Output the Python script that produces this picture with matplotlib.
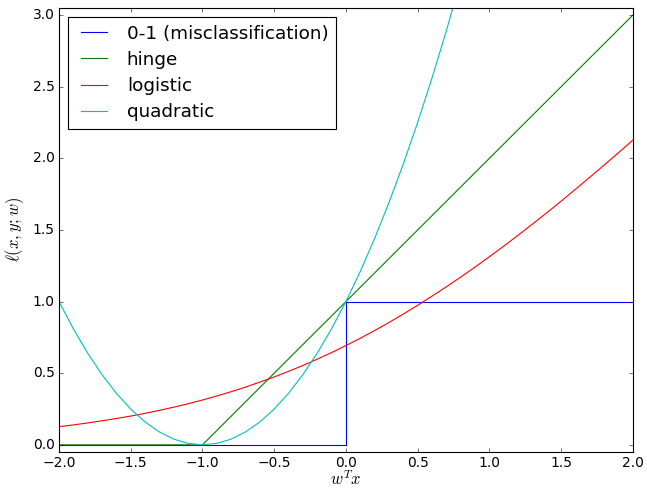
import matplotlib
matplotlib.use("Agg")
import matplotlib.pyplot as plt

plt.style.use("classic")

# values
x_grid = [-2.0, -1.9, -1.8, -1.7, -1.6, -1.5, -1.4, -1.3, -1.2, -1.1, -1.0,
          -0.9, -0.8, -0.7, -0.6, -0.5, -0.4, -0.3, -0.2, -0.1, 0.0,
          0.1, 0.2, 0.3, 0.4, 0.5, 0.6, 0.7, 0.8, 0.9, 1.0,
          1.1, 1.2, 1.3, 1.4, 1.5, 1.6, 1.7, 1.8, 1.9, 2.0]

zero_one_x = [-2.0, 0.0, 0.0, 2.0]
zero_one_y = [0.0, 0.0, 1.0, 1.0]

hinge_x = [-2.0, -1.0, 2.0]
hinge_y = [0.0, 0.0, 3.0]

logistic_y = [0.127, 0.139, 0.153, 0.168, 0.184, 0.201, 0.220, 0.241, 0.263, 0.287, 0.313,
              0.341, 0.371, 0.403, 0.438, 0.474, 0.513, 0.554, 0.598, 0.644, 0.693,
              0.744, 0.798, 0.854, 0.913, 0.974, 1.038, 1.103, 1.171, 1.241, 1.313,
              1.387, 1.463, 1.541, 1.620, 1.701, 1.784, 1.868, 1.953, 2.039, 2.127]

quad_y = [1.00, 0.81, 0.64, 0.49, 0.36, 0.25, 0.16, 0.09, 0.04, 0.01, 0.00,
          0.01, 0.04, 0.09, 0.16, 0.25, 0.36, 0.49, 0.64, 0.81, 1.00,
          1.21, 1.44, 1.69, 1.96, 2.25, 2.56, 2.89, 3.24]

fig = plt.figure(figsize=(647/80, 492/80), dpi=80)
ax = fig.add_axes([0.0912, 0.0813, 0.8868, 0.9024])

ax.plot(zero_one_x, zero_one_y, color="b", label="0-1 (misclassification)")
ax.plot(hinge_x, hinge_y, color="g", label="hinge")
ax.plot(x_grid, logistic_y, color="r", label="logistic")
ax.plot(x_grid[:len(quad_y)], quad_y, color="c", label="quadratic")

ax.set_xlim(-2, 2)
ax.set_ylim(-0.05, 3.05)
ax.tick_params(labelsize=12.5)
ax.set_xlabel(r"$w^Tx$", fontsize=15, labelpad=0)
ax.set_ylabel(r"$\ell(x, y; w)$", fontsize=15, labelpad=6)
ax.legend(loc="upper left", fontsize=16.5, labelspacing=0.45)

fig.savefig("out.png", dpi=80)
